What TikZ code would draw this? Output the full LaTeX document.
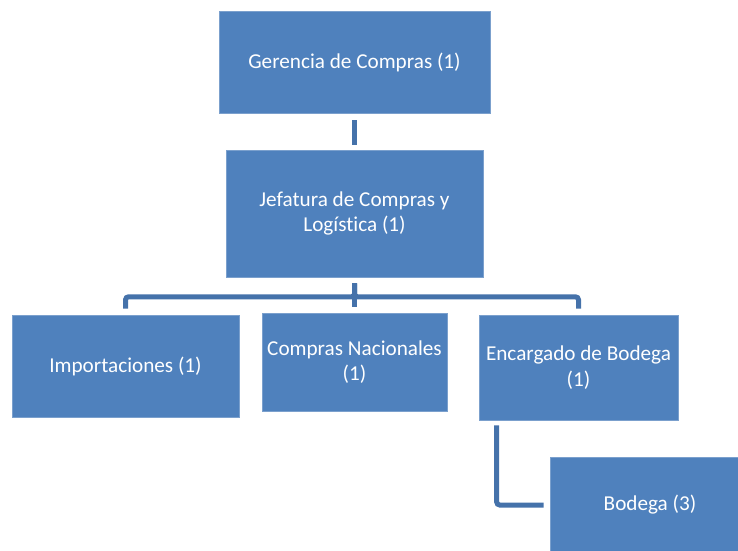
\documentclass[tikz,border=0pt]{standalone}
\usepackage{fontspec}
\setmainfont{Carlito}[Ligatures=NoCommon]
\usepackage{tikz}
\usetikzlibrary{positioning, calc}
\definecolor{boxblue}{RGB}{79,129,189}
\definecolor{lineblue}{RGB}{69,114,170}

\begin{document}
\begin{tikzpicture}[x=1pt, y=-1pt,
    unit/.style={fill=boxblue, draw=boxblue!75!white, line width=0.6pt, text=white,
        font=\fontsize{21.2}{25.5}\selectfont, align=center, inner sep=2pt},
    conn/.style={lineblue, line width=5pt, rounded corners=3pt}]
    \clip (0,0) rectangle (738,550);

    % Gerencia
    \node[unit, minimum width=271pt, minimum height=102pt] (gerencia) at (354.5,62) {Gerencia de Compras (1)};

    % Jefatura
    \node[unit, minimum width=257pt, minimum height=127pt] (jefatura) at (354.5,213.5) {Jefatura de Compras y\\Logística (1)};

    % Third level
    \node[unit, minimum width=227pt, minimum height=102pt] (importaciones) at (125.5,366) {Importaciones (1)};
    \node[unit, minimum width=185pt, minimum height=98pt] (nacionales) at (354.5,362) {Compras Nacionales\\(1)};
    \node[unit, minimum width=199pt, minimum height=105pt] (encargado) at (578.5,367.5) {Encargado de Bodega\\(1)};

    % Bodega
    \node[unit, minimum width=200pt, minimum height=96pt] (bodega) at (650,505) {Bodega (3)};

    % Connectors
    \draw[conn, shorten <=7pt, shorten >=5pt] (gerencia) -- (jefatura);
    \draw[conn, shorten <=6pt, shorten >=6pt] (jefatura.south) -- ++(0,19.5) -| (importaciones.north);
    \draw[conn, shorten <=6pt, shorten >=6pt] (jefatura.south) -- (nacionales.north);
    \draw[conn, shorten <=6pt, shorten >=6pt] (jefatura.south) -- ++(0,19.5) -| (encargado.north);
    \draw[conn, shorten <=5pt, shorten >=6pt] ([xshift=18pt]encargado.south west) |- (bodega.west);
\end{tikzpicture}
\end{document}
